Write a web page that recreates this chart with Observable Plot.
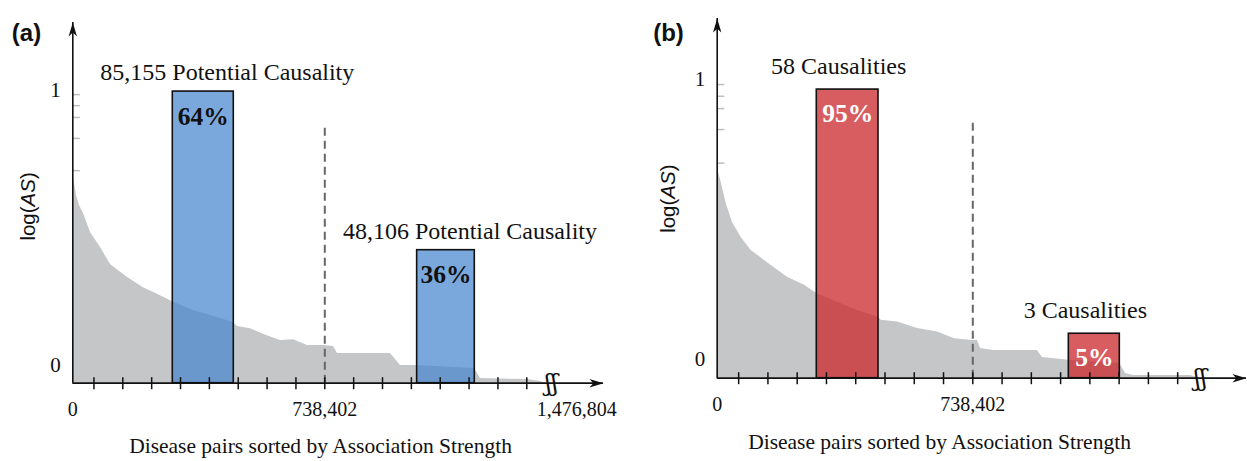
<!DOCTYPE html>
<html><head><meta charset="utf-8">
<script src="https://cdn.jsdelivr.net/npm/d3@7"></script>
<script src="https://cdn.jsdelivr.net/npm/@observablehq/plot@0.6"></script>
<style>
body{margin:0;background:#fff;}
#wrap{display:flex;width:1247px;height:461px;overflow:hidden;}
</style></head><body><div id="wrap"></div>
<script>
// ---------- data ----------
const totalPairs = 1476804;
const midPairs = 738402;
const xTicks = [62000, 146550, 231100, 315650, 400200, 484750, 569300, 653850, 738402, 822950, 907500, 992050, 1076600, 1161150, 1245700, 1330250];
const yTicks = [0, 1];
const xAxisTitle = "Disease pairs sorted by Association Strength";

// panel (a): sorted log(AS) curve
const aCurveX = [0,3500,10800,19600,31300,51900,81200,110500,157300,207100,257000,292100,353600,403500,470800,482600,520700,567600,608600,646700,687700,734600,763900,775600,930900,960200,1007100,1177000,1194600,1332300,1370400,1385000];
const aCurveY = [0.701,0.672,0.618,0.581,0.552,0.483,0.429,0.367,0.323,0.283,0.254,0.232,0.200,0.182,0.156,0.142,0.134,0.109,0.091,0.094,0.073,0.073,0.069,0.044,0.044,0.000,0.000,-0.011,-0.047,-0.051,-0.058,-0.064];
const aSpikes = [0.984, 0.944, 0.901, 0.825, 0.708];
const aBarStart = [293000, 1009000];
const aBarEnd = [471700, 1177900];
const aBarTop = [0.995, 0.419];
const aBarCount = ["85,155 Potential Causality", "48,106 Potential Causality"];
const aBarShare = ["64%", "36%"];
const aXTickLabels = [0, midPairs, totalPairs];

// panel (b)
const bCurveX = [0,3800,11600,26000,44200,69300,98200,156000,203100,252200,287700,347500,405300,466000,473800,520900,578700,636500,685600,738400,752000,760600,798200,924500,939800,1015800,1163100,1179600,1202700,1367400,1396300];
const bCurveY = [0.693,0.668,0.632,0.557,0.489,0.435,0.389,0.335,0.293,0.264,0.235,0.204,0.174,0.150,0.139,0.133,0.110,0.097,0.073,0.067,0.067,0.038,0.031,0.031,0.006,-0.004,-0.015,-0.051,-0.058,-0.058,-0.068];
const bSpikes = [0.982, 0.940, 0.896, 0.821, 0.701];
const bBarStart = [287700, 1015800];
const bBarEnd = [466000, 1163100];
const bBarTop = [0.964, 0.091];
const bBarCount = ["58 Causalities", "3 Causalities"];
const bBarShare = ["95%", "5%"];
const bXTickLabels = [0, midPairs];

// ---------- layout / style ----------
const layoutA = {
  letter: "(a)", width: 620, marginLeft: 72.3, marginRight: 43.7, marginTop: 89.7, marginBottom: 78.3,
  yBase: -0.064, yTop: 1.246, xEnd: 1555000, xBreak: 1402600, dashTop: 0.865,
  barFill: "#4584ce", barOpacity: 0.71, shareColor: "#111",
  countDx: 24, countDy: -19, shareDy: 25,
  letterDx: -46.3, letterDy: -56.7, yLabelY: 0.578, yLabelDx: -44.6,
  titleDx: -4.3, titleDy: 63, xTickDy: 26
};
const layoutB = {
  letter: "(b)", width: 627, marginLeft: 96.7, marginRight: 19.1, marginTop: 79, marginBottom: 83.3,
  yBase: -0.068, yTop: 1.218, xEnd: 1529000, xBreak: 1396300, dashTop: 0.858,
  barFill: "#cb272c", barOpacity: 0.75, shareColor: "#fff",
  countDx: -9, countDy: -23, shareDy: 24,
  letterDx: -48.7, letterDy: -46.3, yLabelY: 0.574, yLabelDx: -48.7,
  titleDx: -33.3, titleDy: 64, xTickDy: 26
};

const serif = "'Liberation Serif', 'Times New Roman', serif";
const sans = "'Liberation Sans', Arial, sans-serif";
const fmt = d3.format(",");

const arrowSym = {draw(ctx, size) {
  const s = Math.sqrt(size / Math.PI);
  ctx.moveTo(0, 0); ctx.lineTo(0.6 * s, 2 * s); ctx.lineTo(0, 1.45 * s); ctx.lineTo(-0.6 * s, 2 * s); ctx.closePath();
}};
const tickSym = {draw(ctx, size) {
  const s = Math.sqrt(size / Math.PI);
  ctx.moveTo(0, -s); ctx.lineTo(0, s);
}};

function panel(L, cx, cy, spikes, starts, ends, tops, counts, shares, xLabels) {
  const curve = cx.map((x, i) => ({x, y: cy[i]}));
  const bars = starts.map((s, i) => ({start: s, end: ends[i], top: tops[i], count: counts[i], share: shares[i]}));
  const svg = Plot.plot({
    width: L.width, height: 461,
    marginLeft: L.marginLeft, marginRight: L.marginRight, marginTop: L.marginTop, marginBottom: L.marginBottom,
    x: {domain: [0, totalPairs], axis: null},
    y: {domain: [L.yBase, 1], axis: null},
    style: {fontFamily: serif, color: "#111", background: "#fff", overflow: "visible"},
    marks: [
      Plot.areaY(curve, {x: "x", y1: L.yBase, y2: "y", fill: "#c5c6c8"}),
      Plot.ruleY(spikes, {x1: 0, x2: 22000, stroke: "#bdbdbd", strokeWidth: 1.5}),
      Plot.rect(bars, {x1: "start", x2: "end", y1: L.yBase, y2: "top", fill: L.barFill, fillOpacity: L.barOpacity, stroke: "#111", strokeWidth: 1.6}),
      Plot.ruleX([midPairs], {y1: L.yBase, y2: L.dashTop, stroke: "#666", strokeWidth: 2, strokeDasharray: "8,5"}),
      Plot.ruleY([L.yBase], {x1: 0, x2: L.xEnd, stroke: "#111", strokeWidth: 1.8}),
      Plot.ruleX([0], {y1: L.yBase, y2: L.yTop, stroke: "#111", strokeWidth: 1.6}),
      Plot.dot([L.xEnd], {x: d => d, y: L.yBase, symbol: arrowSym, r: 7, fill: "#111", stroke: null, rotate: 90}),
      Plot.dot([L.yTop], {x: 0, y: d => d, symbol: arrowSym, r: 7, fill: "#111", stroke: null}),
      Plot.dot(xTicks, {x: d => d, y: L.yBase, symbol: tickSym, r: 6, fill: "none", stroke: "#111", strokeWidth: 1.5}),
      Plot.text([L.xBreak], {x: d => d, y: L.yBase, text: () => "ʃʃ", fontFamily: "'DejaVu Serif', serif", fontSize: 24, fill: "#111"}),
      Plot.text(bars, {x: d => (d.start + d.end) / 2, y: "top", text: "count", dx: L.countDx, dy: L.countDy, fontFamily: serif, fontSize: 24, fill: "#111"}),
      Plot.text(bars, {x: d => (d.start + d.end) / 2, y: "top", text: "share", dy: L.shareDy, fontFamily: serif, fontSize: 25.5, fontWeight: "bold", fill: L.shareColor}),
      Plot.text(xLabels, {x: d => d, y: L.yBase, text: d => fmt(d), dy: L.xTickDy, fontFamily: serif, fontSize: 20, fill: "#111"}),
      Plot.text(yTicks, {x: 0, y: d => d, text: d => String(d), dx: -12, textAnchor: "end", fontFamily: serif, fontSize: 21, fill: "#111"}),
      Plot.text([xAxisTitle], {frameAnchor: "bottom", lineAnchor: "middle", textAnchor: "middle", dx: L.titleDx, dy: L.titleDy, fontFamily: serif, fontSize: 21.5, fill: "#111"}),
      Plot.text(["log(AS)"], {x: 0, y: L.yLabelY, rotate: -90, dx: L.yLabelDx, fontFamily: sans, fontSize: 20.5, fill: "#111"}),
      Plot.text([L.letter], {frameAnchor: "top-left", lineAnchor: "middle", textAnchor: "middle", dx: L.letterDx, dy: L.letterDy, fontFamily: sans, fontWeight: "bold", fontSize: 24, fill: "#111"})
    ]
  });
  svg.querySelectorAll("text").forEach(t => {
    if (t.textContent === "log(AS)") {
      t.textContent = "";
      const ns = "http://www.w3.org/2000/svg";
      const p1 = document.createElementNS(ns, "tspan"); p1.textContent = "log(";
      const p2 = document.createElementNS(ns, "tspan"); p2.textContent = "AS"; p2.setAttribute("font-style", "italic");
      const p3 = document.createElementNS(ns, "tspan"); p3.textContent = ")";
      t.append(p1, p2, p3);
    }
  });
  return svg;
}

const wrap = document.getElementById("wrap");
wrap.append(panel(layoutA, aCurveX, aCurveY, aSpikes, aBarStart, aBarEnd, aBarTop, aBarCount, aBarShare, aXTickLabels));
wrap.append(panel(layoutB, bCurveX, bCurveY, bSpikes, bBarStart, bBarEnd, bBarTop, bBarCount, bBarShare, bXTickLabels));
</script>
</body></html>
